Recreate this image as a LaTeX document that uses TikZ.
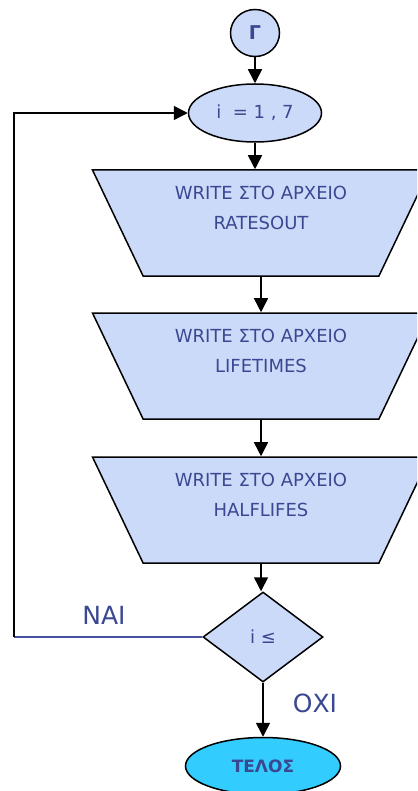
\documentclass[tikz,border=0pt]{standalone}
\usepackage{fontspec}
\setmainfont{DejaVu Sans}
\usetikzlibrary{shapes.geometric,arrows.meta}
\definecolor{boxfill}{RGB}{204,218,250}
\definecolor{txtblue}{RGB}{58,72,145}
\definecolor{endfill}{RGB}{51,204,255}
\definecolor{lineblue}{RGB}{70,80,160}
\def\largeur{417}
\def\hauteur{791}
\tikzset{
    term/.style={ellipse, draw=black, line width=1.5pt, fill=boxfill, text=txtblue, inner sep=0pt, font=\fontsize{18}{20}\selectfont},
    writebox/.style={trapezium, trapezium left angle=122.3, trapezium right angle=122.3, trapezium stretches body,
        minimum width=337pt, minimum height=106pt, draw=black, line width=1.5pt, fill=boxfill, text=txtblue,
        align=center, font=\fontsize{18}{30}\selectfont},
    test/.style={diamond, draw=black, line width=1.5pt, fill=boxfill, text=txtblue, minimum width=120pt, minimum height=90pt,
        inner sep=0pt, font=\fontsize{18}{20}\selectfont},
    answer/.style={text=txtblue, font=\fontsize{25}{28}\selectfont},
    flow/.style={line width=1.6pt, -{Triangle[width=14pt,length=14pt]}}
}

\begin{document}
\begin{tikzpicture}[x=1pt, y=-1pt]
    \clip (0,0) rectangle (\largeur,\hauteur);
    % nodes
    \node[term, minimum width=49pt, minimum height=47pt, font=\bfseries\fontsize{19}{20}\selectfont] (start) at (255,33) {Γ};
    \node[term, minimum width=133pt, minimum height=58pt] (loop) at (255,113) {i~ = 1 , 7};
    \node[writebox] (w1) at (261,223) {WRITE ΣΤΟ ΑΡΧΕΙΟ\\RATESOUT\\\mbox{}};
    \node[writebox] (w2) at (261,366) {WRITE ΣΤΟ ΑΡΧΕΙΟ\\LIFETIMES\\\mbox{}};
    \node[writebox] (w3) at (261,510) {WRITE ΣΤΟ ΑΡΧΕΙΟ\\HALFLIFES\\\mbox{}};
    \node[test] (dec) at (263,637) {i ≤};
    \node[term, fill=endfill, minimum width=155pt, minimum height=57pt, font=\bfseries\fontsize{17}{20}\selectfont] (fin) at (263,766) {ΤΕΛΟΣ};
    \node[answer] (yes) at (104,615) {ΝΑΙ};
    \node[answer] (no) at (315,703) {ΟΧΙ};
    \coordinate (corner) at (14,637);
    % connectors
    \draw[flow] (start.south) -- (loop.north);
    \draw[flow] (loop.south) -- (loop.south |- w1.north);
    \draw[flow] (w1.south) -- (w2.north);
    \draw[flow] (w2.south) -- (w3.north);
    \draw[flow] (w3.south) -- (w3.south |- dec.north);
    \draw[flow] (dec.south) -- (fin.north);
    \draw[lineblue, line width=1.4pt] (dec.west) -- (dec.west -| corner);
    \draw[flow] (dec.west -| corner) -- (corner |- loop.west) -- (loop.west);
\end{tikzpicture}
\end{document}
